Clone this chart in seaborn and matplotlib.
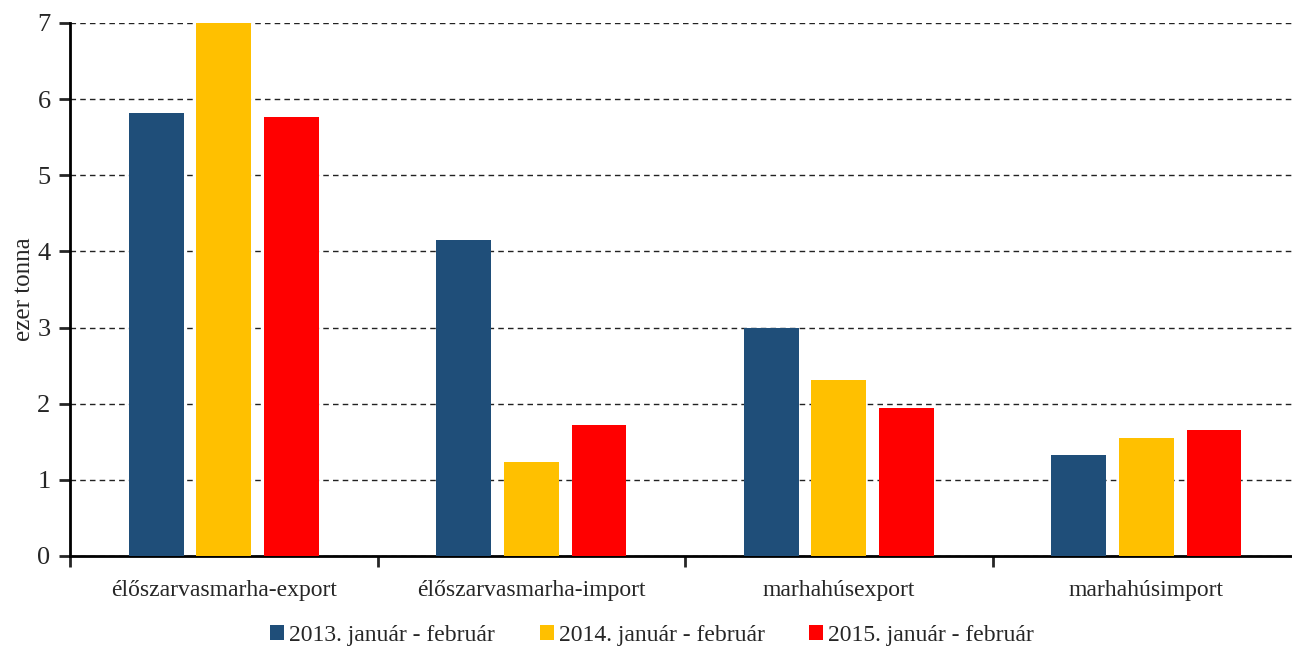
import pandas as pd
import numpy as np
import matplotlib.pyplot as plt
from matplotlib.ticker import FixedLocator
import seaborn as sns

categories = ["élőszarvasmarha-export", "élőszarvasmarha-import", "marhahúsexport", "marhahúsimport"]
periods = ["2013. január - február", "2014. január - február", "2015. január - február"]
vals_2013 = [5.82, 4.15, 2.99, 1.33]
vals_2014 = [7.00, 1.23, 2.31, 1.55]
vals_2015 = [5.77, 1.72, 1.94, 1.65]
colors = ["#1F4E79", "#FFC000", "#FF0000"]

df = pd.DataFrame({
    "kategoria": categories * 3,
    "idoszak": np.repeat(periods, len(categories)),
    "ertek": vals_2013 + vals_2014 + vals_2015,
})

sns.set_style("white")
plt.rcParams["font.family"] = ["Liberation Serif", "DejaVu Serif"]

fig = plt.figure(figsize=(12.92, 6.49), dpi=100)
ax = fig.add_axes([0.0542, 0.1433, 0.952, 0.8213])

sns.barplot(data=df, x="kategoria", y="ertek", hue="idoszak", palette=colors,
            saturation=1, width=0.66, gap=0.19, linewidth=0, edgecolor="none",
            ax=ax, legend=True, zorder=3)

ax.set_xlim(-0.5, 3.5)
ax.set_ylim(0, 7)
ax.set_yticks(range(0, 8))
ax.yaxis.grid(True, linestyle=(0, (4, 3)), color="#222222", linewidth=1, zorder=1)
ax.xaxis.grid(False)
ax.set_axisbelow(True)

for s in ["top", "right"]:
    ax.spines[s].set_visible(False)
ax.spines["left"].set_linewidth(2)
ax.spines["bottom"].set_linewidth(2)
ax.spines["left"].set_color("black")
ax.spines["bottom"].set_color("black")

ax.tick_params(axis="y", direction="out", length=8, width=2, labelsize=19, pad=6, left=True)
ax.tick_params(axis="x", which="major", length=0, labelsize=17, pad=17)
ax.xaxis.set_minor_locator(FixedLocator([-0.5, 0.5, 1.5, 2.5, 3.5]))
ax.tick_params(axis="x", which="minor", direction="out", length=8, width=2, bottom=True)

ax.set_xlabel("")
ax.set_ylabel("ezer tonna", fontsize=18, labelpad=2)

handles, labels = ax.get_legend_handles_labels()
ax.legend(handles, labels, loc="center", bbox_to_anchor=(652 / 1292, 14 / 649),
          bbox_transform=fig.transFigure, ncol=3, frameon=False, fontsize=17,
          handlelength=0.6, handleheight=0.6, handletextpad=0.2, columnspacing=1.9)

fig.savefig("out.png", dpi=100)
